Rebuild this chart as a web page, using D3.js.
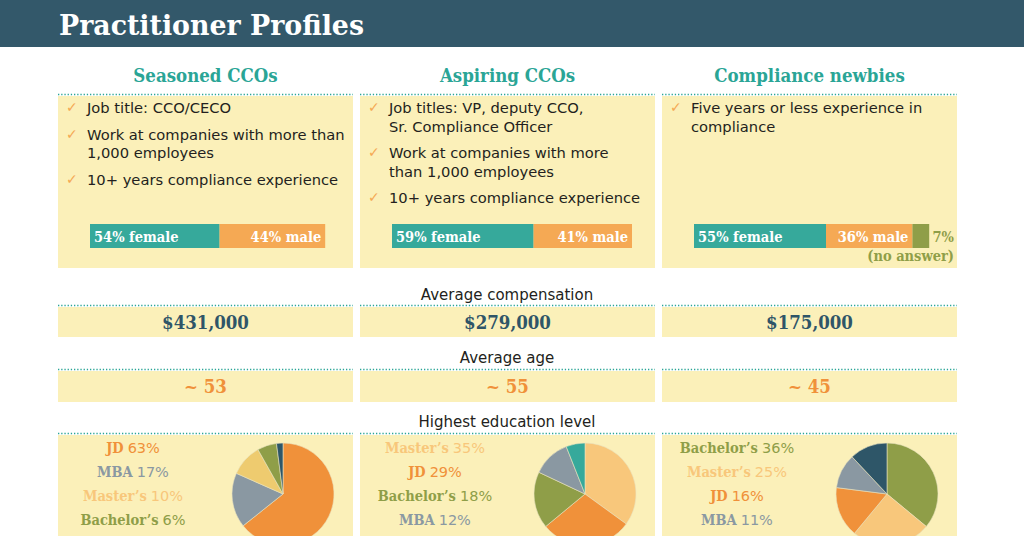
<!DOCTYPE html>
<html>
<meta charset="utf-8" />
<style>
  body { margin: 0; background: #fff; }
  .slab { font-family: "DejaVu Serif Condensed", "DejaVu Serif", serif; font-weight: bold; }
  .sans { font-family: "DejaVu Sans", sans-serif; }
</style>
<body>
<script src="https://d3js.org/d3.v7.min.js"></script>
<script>
  let width = 1024,
    height = 536;

  // groups and their bullet points
  let groups = ["Seasoned CCOs", "Aspiring CCOs", "Compliance newbies"];
  let bullets = [
    [["Job title: CCO/CECO"], ["Work at companies with more than", "1,000 employees"], ["10+ years compliance experience"]],
    [["Job titles: VP, deputy CCO,", "Sr. Compliance Officer"], ["Work at companies with more", "than 1,000 employees"], ["10+ years compliance experience"]],
    [["Five years or less experience in", "compliance"]]
  ];

  // gender split (%)
  let female = [54, 59, 55];
  let male = [44, 41, 36];
  let noAnswer = [0, 0, 7];

  let compensation = [431000, 279000, 175000];
  let age = [53, 55, 45];

  // highest education level (%), in pie order
  let eduLabels = [
    ["JD", "MBA", "Master\u2019s", "Bachelor\u2019s", "Other"],
    ["Master\u2019s", "JD", "Bachelor\u2019s", "MBA", "Other"],
    ["Bachelor\u2019s", "Master\u2019s", "JD", "MBA", "Other"]
  ];
  let eduValues = [
    [63, 17, 10, 6, 2],
    [35, 29, 18, 12, 6],
    [36, 25, 16, 11, 12]
  ];

  let eduColor = {
    "JD": "#f0913a",
    "MBA": "#8a98a2",
    "Master\u2019s": "#f8c77b",
    "Bachelor\u2019s": "#8f9e48"
  };
  let otherColor = ["#2e5668", "#36a99b", "#2e5668"];
  let sliceMasters = ["#eecb6f", "#f8c77b", "#f8c77b"];

  let svg = d3.select("body").append("svg")
    .attr("width", width).attr("height", height);

  let x = d3.scaleBand().domain(groups).range([58, 957]).paddingInner(0.0232);
  let pct = d3.scaleLinear().domain([0, 100]).range([0, 240]);

  // header
  svg.append("rect").attr("width", width).attr("height", 47).attr("fill", "#33586a");
  svg.append("text").attr("class", "slab")
    .attr("x", 59).attr("y", 35)
    .attr("font-size", 27).attr("fill", "#fff")
    .attr("textLength", 305).attr("lengthAdjust", "spacingAndGlyphs")
    .text("Practitioner Profiles");

  function dotted(y) {
    svg.selectAll(null).data(groups).join("line")
      .attr("x1", d => x(d)).attr("x2", d => x(d) + x.bandwidth())
      .attr("y1", y).attr("y2", y)
      .attr("stroke", "#2aa596").attr("stroke-width", 1.5)
      .attr("stroke-dasharray", "1.3,1.9");
  }

  function panels(y0, y1) {
    svg.selectAll(null).data(groups).join("rect")
      .attr("x", d => x(d)).attr("y", y0)
      .attr("width", x.bandwidth()).attr("height", y1 - y0)
      .attr("fill", "#fbf0b9");
  }

  // group titles
  svg.selectAll(null).data(groups).join("text")
    .attr("class", "slab")
    .attr("x", d => x(d) + x.bandwidth() / 2).attr("y", 82)
    .attr("text-anchor", "middle").attr("font-size", 18.5).attr("fill", "#2aa596")
    .text(d => d);

  dotted(94.5);
  panels(96, 268);

  // bullets
  groups.forEach((g, i) => {
    let y = 113;
    bullets[i].forEach(b => {
      svg.append("text").attr("class", "sans")
        .attr("x", x(g) + 8).attr("y", y - 1)
        .attr("font-size", 14).attr("fill", "#f5a954").text("\u2713");
      b.forEach((line, j) => {
        svg.append("text").attr("class", "sans")
          .attr("x", x(g) + 29).attr("y", y + j * 18.5)
          .attr("font-size", 14.7).attr("fill", "#231f20")
          .text(line);
      });
      y += (b.length - 1) * 18.5 + 26.5;
    });
  });

  // gender bars
  groups.forEach((g, i) => {
    let x0 = x(g) + 32, y0 = 224, h = 24;
    let segs = [
      { v: female[i], c: "#36a99b" },
      { v: male[i], c: "#f5a954" },
      { v: noAnswer[i], c: "#8f9e48" }
    ];
    let acc = 0;
    segs.forEach(s => {
      s.x = x0 + pct(acc);
      acc += s.v;
    });
    svg.selectAll(null).data(segs.filter(s => s.v > 0)).join("rect")
      .attr("x", s => s.x).attr("y", y0)
      .attr("width", s => pct(s.v)).attr("height", h)
      .attr("fill", s => s.c);
    svg.append("text").attr("class", "slab")
      .attr("x", x0 + 4).attr("y", y0 + 17.5)
      .attr("font-size", 14.5).attr("fill", "#fff")
      .text(female[i] + "% female");
    svg.append("text").attr("class", "slab")
      .attr("x", segs[1].x + pct(male[i]) - 4).attr("y", y0 + 17.5)
      .attr("text-anchor", "end").attr("font-size", 14.5).attr("fill", "#fff")
      .text(male[i] + "% male");
    if (noAnswer[i] > 0) {
      svg.append("text").attr("class", "slab")
        .attr("x", x(g) + x.bandwidth() - 3).attr("y", y0 + 17.5)
        .attr("text-anchor", "end").attr("font-size", 14.5).attr("fill", "#8f9e48")
        .text(noAnswer[i] + "%");
      svg.append("text").attr("class", "slab")
        .attr("x", x(g) + x.bandwidth() - 3).attr("y", y0 + 37)
        .attr("text-anchor", "end").attr("font-size", 14.5).attr("fill", "#8f9e48")
        .text("(no answer)");
    }
  });

  // section label helper
  function sectionLabel(txt, y) {
    svg.append("text").attr("class", "sans")
      .attr("x", 507).attr("y", y)
      .attr("text-anchor", "middle").attr("font-size", 15)
      .attr("fill", "#231f20")
      .text(txt);
  }

  // compensation
  sectionLabel("Average compensation", 299.5);
  dotted(305.5);
  panels(307, 337);
  svg.selectAll(null).data(groups).join("text")
    .attr("class", "slab")
    .attr("x", d => x(d) + x.bandwidth() / 2).attr("y", 329)
    .attr("text-anchor", "middle").attr("font-size", 18.5).attr("fill", "#2f5568")
    .text((d, i) => d3.format("$,")(compensation[i]));

  // age
  sectionLabel("Average age", 362.5);
  dotted(369.5);
  panels(371, 402);
  svg.selectAll(null).data(groups).join("text")
    .attr("class", "slab")
    .attr("x", d => x(d) + x.bandwidth() / 2).attr("y", 393)
    .attr("text-anchor", "middle").attr("font-size", 18.5).attr("fill", "#f0913a")
    .text((d, i) => "~ " + age[i]);

  // education
  sectionLabel("Highest education level", 426.5);
  dotted(433.5);
  panels(435, height + 5);

  let pie = d3.pie().sort(null).value(d => d.v);
  let arc = d3.arc().innerRadius(0).outerRadius(51);

  groups.forEach((g, i) => {
    let data = eduLabels[i].map((l, j) => ({ l: l, v: eduValues[i][j] }));
    let color = d => d.l === "Other" ? otherColor[i]
      : d.l === "Master\u2019s" ? sliceMasters[i] : eduColor[d.l];

    svg.append("g")
      .attr("transform", "translate(" + (x(g) + 225) + ",494)")
      .selectAll("path").data(pie(data)).join("path")
      .attr("d", arc)
      .attr("fill", d => color(d.data))
      .attr("stroke", "#e9e2c0").attr("stroke-width", 0.6);

    let legend = svg.selectAll(null).data(data.filter(d => d.l !== "Other")).join("text")
      .attr("x", x(g) + 75).attr("y", (d, j) => 453 + j * 24)
      .attr("text-anchor", "middle").attr("fill", d => eduColor[d.l]);
    legend.append("tspan").attr("class", "slab").attr("font-size", 14.5)
      .text(d => d.l);
    legend.append("tspan").attr("class", "sans").attr("font-size", 14.5)
      .attr("dx", 4).text(d => d.v + "%");
  });
</script>
</body>
</html>
